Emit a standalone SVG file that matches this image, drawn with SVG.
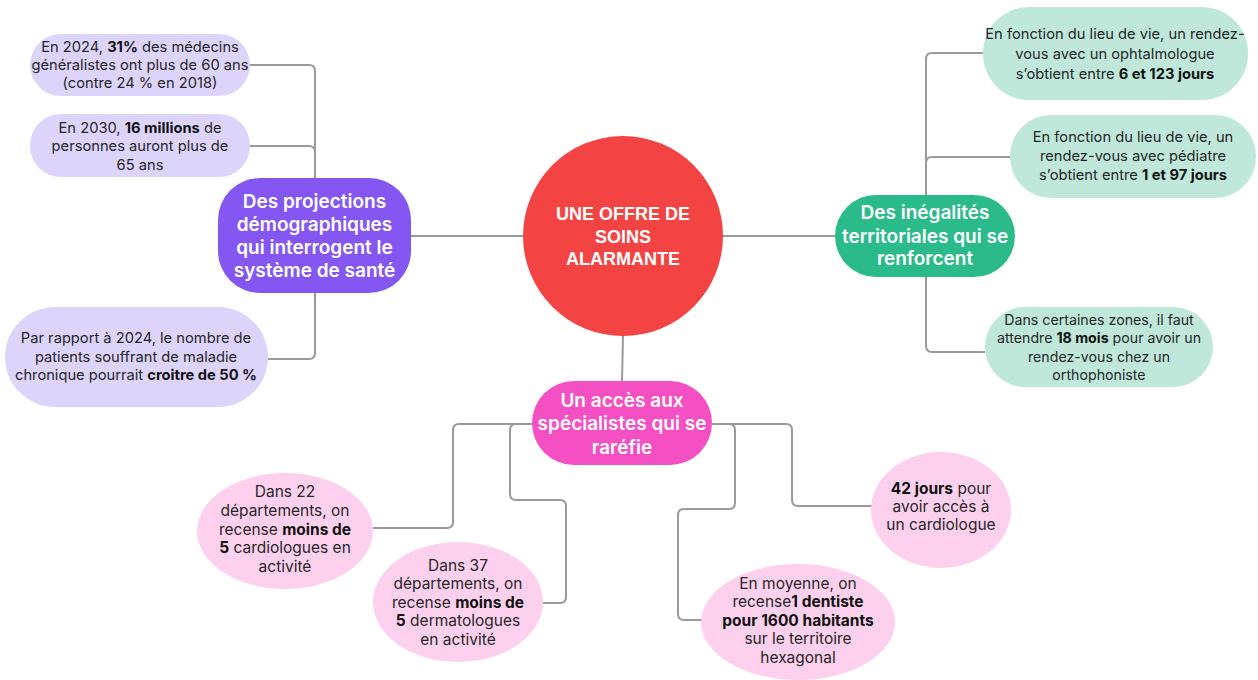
<svg xmlns="http://www.w3.org/2000/svg" width="1258" height="680" viewBox="0 0 1258 680">
<style>
.c{fill:none;stroke:#9a9a9a;stroke-width:2}
.t{font-family:Inter,"Noto Sans",sans-serif;font-size:14.7px;fill:#262626;text-anchor:middle}
.e{font-size:15.5px}
.b{font-weight:700;fill:#111}
.h{font-family:Inter,"Noto Sans",sans-serif;font-size:19px;font-weight:600;fill:#fff;text-anchor:middle}
.m{font-family:"Liberation Sans",Arial,sans-serif;font-size:18px;font-weight:700;fill:#fff;text-anchor:middle}
.lp{fill:#ddd4fb}.lg{fill:#bfe8db}.lk{fill:#fdd0ee}
</style>
<rect width="1258" height="680" fill="#fff"/>
<g id="connectors">
<path class="c" d="M411 236 H523"/>
<path class="c" d="M723 236 H835"/>
<path class="c" d="M623 336 L622 381"/>
<path class="c" d="M250 65 H309 Q315 65 315 71 V178"/>
<path class="c" d="M250 146 H309 Q315 146 315 152 V178"/>
<path class="c" d="M315 293 V353 Q315 359 309 359 H268"/>
<path class="c" d="M983 53 H932 Q926 53 926 59 V195"/>
<path class="c" d="M1010 157 H932 Q926 157 926 163 V195"/>
<path class="c" d="M926 277 V346 Q926 352 932 352 H985"/>
<path class="c" d="M533 424 H459 Q453 424 453 430 V522 Q453 528 447 528 H373"/>
<path class="c" d="M533 424 H516 Q510 424 510 430 V494 Q510 500 516 500 H560 Q566 500 566 506 V597 Q566 603 560 603 H543"/>
<path class="c" d="M712 424 H786 Q792 424 792 430 V500 Q792 506 798 506 H872"/>
<path class="c" d="M712 424 H729 Q735 424 735 430 V503 Q735 509 729 509 H684 Q678 509 678 515 V614 Q678 620 684 620 H702"/>
</g>
<g id="center">
<circle cx="623" cy="236" r="100" fill="#f44343"/>
<text class="m"><tspan x="623" y="220">UNE OFFRE DE</tspan><tspan x="623" y="243">SOINS</tspan><tspan x="623" y="265">ALARMANTE</tspan></text>
</g>
<g id="demographie">
<rect x="218" y="178" width="193" height="115" rx="42" fill="#8557f2"/>
<text class="h"><tspan x="314.5" y="208">Des projections</tspan><tspan x="314.5" y="231">démographiques</tspan><tspan x="314.5" y="254">qui interrogent le</tspan><tspan x="314.5" y="277">système de santé</tspan></text>
</g>
<g id="p1">
<rect class="lp" x="30" y="34" width="220" height="62" rx="31"/>
<text class="t"><tspan x="140" y="52">En 2024, <tspan class="b">31%</tspan> des médecins</tspan><tspan x="140" y="70">généralistes ont plus de 60 ans</tspan><tspan x="140" y="88">(contre 24 % en 2018)</tspan></text>
</g>
<g id="p2">
<rect class="lp" x="30" y="114" width="220" height="63" rx="31"/>
<text class="t"><tspan x="140" y="133">En 2030, <tspan class="b">16 millions</tspan> de</tspan><tspan x="140" y="151">personnes auront plus de</tspan><tspan x="140" y="170">65 ans</tspan></text>
</g>
<g id="p3">
<rect class="lp" x="5" y="307" width="263" height="100" rx="50"/>
<text class="t"><tspan x="136" y="343">Par rapport à 2024, le nombre de</tspan><tspan x="136" y="362">patients souffrant de maladie</tspan><tspan x="136" y="380">chronique pourrait <tspan class="b">croitre de 50 %</tspan></tspan></text>
</g>
<g id="inegalites">
<rect x="835" y="195" width="180" height="82" rx="41" fill="#2bbb8b"/>
<text class="h"><tspan x="925" y="219">Des inégalités</tspan><tspan x="925" y="243">territoriales qui se</tspan><tspan x="925" y="265">renforcent</tspan></text>
</g>
<g id="g1">
<rect class="lg" x="983" y="7" width="265" height="93" rx="46"/>
<text class="t"><tspan x="1115" y="39">En fonction du lieu de vie, un rendez-</tspan><tspan x="1115" y="59">vous avec un ophtalmologue</tspan><tspan x="1115" y="79">s’obtient entre <tspan class="b">6 et 123 jours</tspan></tspan></text>
</g>
<g id="g2">
<rect class="lg" x="1010" y="115" width="246" height="83" rx="41"/>
<text class="t"><tspan x="1133" y="142">En fonction du lieu de vie, un</tspan><tspan x="1133" y="161">rendez-vous avec pédiatre</tspan><tspan x="1133" y="180">s’obtient entre <tspan class="b">1 et 97 jours</tspan></tspan></text>
</g>
<g id="g3">
<rect class="lg" x="985" y="307" width="228" height="80" rx="40"/>
<text class="t" style="font-size:14.2px"><tspan x="1099" y="325">Dans certaines zones, il faut</tspan><tspan x="1099" y="343">attendre <tspan class="b">18 mois</tspan> pour avoir un</tspan><tspan x="1099" y="362">rendez-vous chez un</tspan><tspan x="1099" y="380">orthophoniste</tspan></text>
</g>
<g id="specialistes">
<rect x="532" y="381" width="180" height="84" rx="42" fill="#f450c3"/>
<text class="h"><tspan x="622" y="407">Un accès aux</tspan><tspan x="622" y="430">spécialistes qui se</tspan><tspan x="622" y="454">raréfie</tspan></text>
</g>
<g id="k1">
<ellipse class="lk" cx="285" cy="531" rx="88" ry="58"/>
<text class="t e"><tspan x="285" y="497">Dans 22</tspan><tspan x="285" y="516">départements, on</tspan><tspan x="285" y="535">recense <tspan class="b">moins de</tspan></tspan><tspan x="285" y="553"><tspan class="b">5</tspan> cardiologues en</tspan><tspan x="285" y="572">activité</tspan></text>
</g>
<g id="k2">
<ellipse class="lk" cx="458" cy="602" rx="85" ry="60"/>
<text class="t e"><tspan x="458" y="571">Dans 37</tspan><tspan x="458" y="589">départements, on</tspan><tspan x="458" y="608">recense <tspan class="b">moins de</tspan></tspan><tspan x="458" y="626"><tspan class="b">5</tspan> dermatologues</tspan><tspan x="458" y="645">en activité</tspan></text>
</g>
<g id="k3">
<ellipse class="lk" cx="941" cy="510" rx="70" ry="58"/>
<text class="t e"><tspan x="941" y="494"><tspan class="b">42 jours</tspan> pour</tspan><tspan x="941" y="512">avoir accès à</tspan><tspan x="941" y="530">un cardiologue</tspan></text>
</g>
<g id="k4">
<ellipse class="lk" cx="798" cy="622" rx="97" ry="58"/>
<text class="t e"><tspan x="798" y="589">En moyenne, on</tspan><tspan x="798" y="607">recense<tspan class="b">1 dentiste</tspan></tspan><tspan x="798" y="626"><tspan class="b">pour 1600 habitants</tspan></tspan><tspan x="798" y="644">sur le territoire</tspan><tspan x="798" y="663">hexagonal</tspan></text>
</g>
</svg>
